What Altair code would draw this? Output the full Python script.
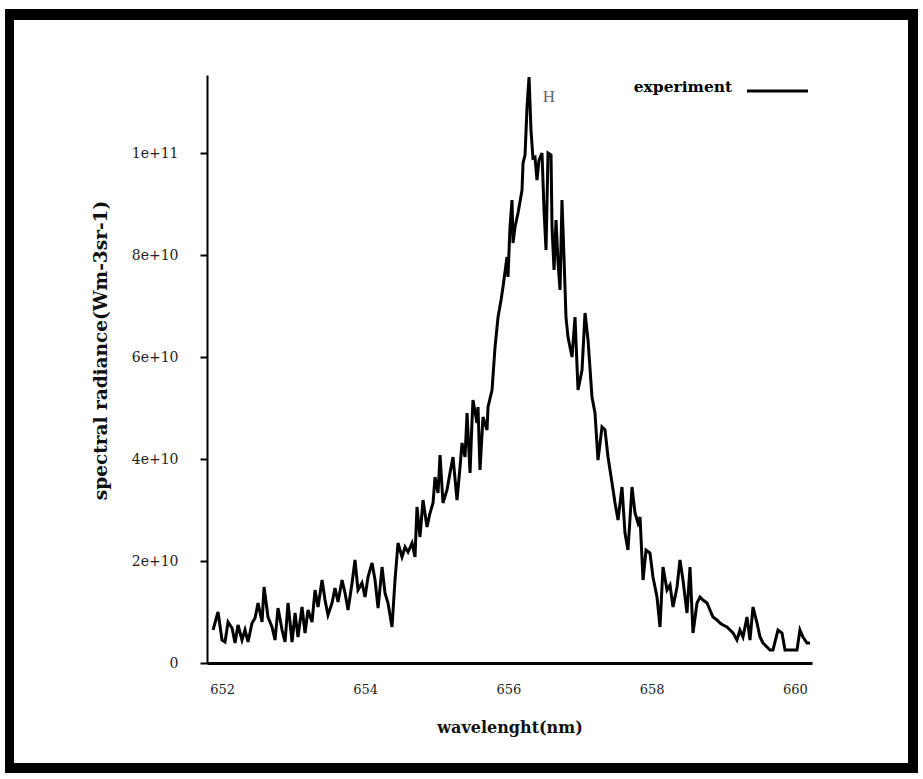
import altair as alt
import pandas as pd

# wavelength (nm)
wavelength = [
    651.874, 651.944, 652.000, 652.042, 652.084, 652.140, 652.182, 652.223, 652.279, 652.321,
    652.363, 652.419, 652.461, 652.503, 652.559, 652.587, 652.642, 652.698, 652.740, 652.782,
    652.838, 652.880, 652.922, 652.978, 653.020, 653.061, 653.117, 653.159, 653.201, 653.257,
    653.299, 653.341, 653.397, 653.438, 653.480, 653.536, 653.578, 653.620, 653.676, 653.718,
    653.760, 653.816, 653.857, 653.899, 653.955, 653.997, 654.039, 654.095, 654.137, 654.179,
    654.235, 654.276, 654.318, 654.374,
    654.416, 654.458, 654.514, 654.556, 654.598, 654.654, 654.695, 654.723, 654.765, 654.807,
    654.863, 654.905, 654.947, 654.975, 655.017, 655.045, 655.086, 655.142, 655.184, 655.226,
    655.282, 655.324, 655.352, 655.394, 655.422, 655.464, 655.492, 655.505, 655.561, 655.575,
    655.603, 655.645, 655.701, 655.715, 655.771,
    655.813, 655.855, 655.897, 655.924, 655.980, 655.994, 656.022, 656.050, 656.064, 656.092,
    656.134, 656.190, 656.204, 656.232, 656.260, 656.288, 656.315, 656.343, 656.371, 656.399,
    656.427, 656.469, 656.497, 656.525, 656.553, 656.595, 656.609, 656.637, 656.665, 656.693,
    656.721, 656.748, 656.776, 656.804,
    656.832, 656.888, 656.930, 656.972, 657.028, 657.070, 657.112, 657.167, 657.209, 657.251,
    657.307, 657.349, 657.391, 657.447, 657.489, 657.531, 657.586, 657.628, 657.670, 657.726,
    657.768, 657.810, 657.838, 657.880, 657.922, 657.977, 658.019, 658.047, 658.075, 658.117,
    658.159, 658.215, 658.257, 658.299, 658.355, 658.396, 658.438, 658.494, 658.536, 658.578,
    658.634, 658.676, 658.718, 658.774, 658.815, 658.857, 658.913, 658.955, 658.997, 659.053,
    659.095, 659.137, 659.192, 659.234, 659.276, 659.332, 659.374, 659.416, 659.472, 659.514,
    659.556, 659.611, 659.653, 659.695, 659.765, 659.821, 659.863, 659.933, 660.030, 660.072,
    660.114, 660.170, 660.212,
]

# spectral radiance, in units of 1e9
radiance_e9 = [
    6.47, 10.00, 4.51, 4.12, 8.04, 6.86, 3.92, 7.45, 4.51, 6.47,
    4.12, 7.84, 8.82, 11.76, 8.04, 14.90, 9.02, 7.06, 4.51, 10.78,
    6.47, 4.12, 11.76, 4.12, 9.80, 5.10, 10.98, 5.88, 10.39, 8.04,
    14.31, 10.98, 16.27, 12.35, 9.41, 11.76, 14.71, 11.96, 16.27, 13.73,
    10.39, 15.69, 20.20, 14.31, 15.69, 12.94, 16.86, 19.61, 16.27, 10.78,
    18.82, 13.73, 11.76, 7.06,
    16.27, 23.53, 20.78, 22.75, 21.76, 23.53, 20.78, 30.59, 24.71, 31.96,
    26.67, 29.41, 31.37, 36.47, 33.33, 40.78, 31.37, 33.92, 37.25, 40.39,
    31.96, 38.43, 43.14, 40.39, 49.02, 37.25, 47.65, 51.57, 47.06, 50.20,
    37.84, 48.24, 45.69, 50.20, 53.53,
    61.96, 67.84, 71.18, 73.73, 79.61, 75.69, 85.49, 90.78, 82.35, 85.49,
    88.24, 92.75, 98.04, 99.61, 109.0, 114.9, 104.5, 99.02, 99.22, 94.71,
    98.63, 100.0, 88.82, 80.98, 100.0, 99.61, 85.49, 77.06, 86.86, 78.43,
    73.14, 90.78, 79.61, 67.84,
    63.92, 60.00, 67.84, 53.53, 57.45, 68.63, 63.33, 52.16, 49.02, 39.80,
    46.27, 45.69, 40.39, 35.29, 31.37, 28.04, 34.51, 25.49, 22.16, 34.51,
    29.41, 27.45, 28.63, 16.27, 22.16, 21.57, 16.86, 14.90, 12.94, 7.06,
    18.82, 14.31, 15.29, 10.98, 14.90, 20.20, 16.27, 9.80, 18.82, 5.88,
    11.76, 12.94, 12.35, 11.76, 10.39, 9.02, 8.43, 7.84, 7.45, 7.06,
    6.47, 5.88, 4.51, 6.47, 5.10, 9.02, 4.51, 10.98, 7.84, 5.10,
    3.92, 3.14, 2.55, 2.55, 6.47, 5.88, 2.55, 2.55, 2.55, 6.47,
    5.10, 3.92, 3.92,
]

x_ticks = [652, 654, 656, 658, 660]
y_ticks = [0, 2e10, 4e10, 6e10, 8e10, 1e11]
legend_label = ["experiment"]
line_label = ["H"]
line_label_pos = [656.48, 1.11e11]

df = pd.DataFrame({
    "wavelength": wavelength,
    "radiance": [v * 1e9 for v in radiance_e9],
})

FONT = "DejaVu Serif"

x_enc = alt.X(
    "wavelength:Q",
    scale=alt.Scale(domain=[651.79, 660.24], nice=False, zero=False),
    axis=alt.Axis(
        values=x_ticks, format="d", grid=False, ticks=False,
        domainColor="black", domainWidth=3,
        labelFont=FONT, labelFontSize=13, labelColor="#222", labelPadding=20,
        title="wavelenght(nm)", titleFont=FONT, titleFontSize=16, titleFontWeight="bold",
        titleColor="#111", titleY=64, titleBaseline="middle",
    ),
)
y_enc = alt.Y(
    "radiance:Q",
    scale=alt.Scale(domain=[0, 1.153e11], nice=False),
    axis=alt.Axis(
        values=y_ticks, grid=False,
        labelExpr="datum.value == 0 ? '0' : format(datum.value, '.0e')",
        domainColor="black", domainWidth=2, tickColor="black", tickWidth=2, tickSize=7,
        labelFont=FONT, labelFontSize=14, labelColor="#222", labelPadding=22,
        title="spectral radiance(Wm-3sr-1)", titleFont=FONT, titleFontSize=18.5,
        titleFontWeight="bold", titleColor="#111", titleAngle=270,
        titleX=-107, titleY=275, titleAlign="center", titleBaseline="middle",
    ),
)

line = alt.Chart(df).mark_line(color="black", strokeWidth=3, strokeJoin="miter").encode(
    x=x_enc, y=y_enc
)

h_df = pd.DataFrame({"wavelength": [line_label_pos[0]], "radiance": [line_label_pos[1]], "t": line_label})
h_text = alt.Chart(h_df).mark_text(
    font="Liberation Serif", fontSize=17, color="#666", align="left", baseline="middle"
).encode(x="wavelength:Q", y="radiance:Q", text="t:N")

leg_df = pd.DataFrame({"t": legend_label})
leg_text = alt.Chart(leg_df).mark_text(
    font=FONT, fontSize=15.5, fontWeight="bold", color="black", align="center", baseline="middle"
).encode(x=alt.value(476), y=alt.value(12), text="t:N")
leg_line = alt.Chart(leg_df).mark_rule(color="black", strokeWidth=3).encode(
    x=alt.value(540), x2=alt.value(601), y=alt.value(16)
)

one = alt.Data(values=[{}])
def bar(x1, x2, y1, y2):
    return alt.Chart(one).mark_rect(color="black").encode(
        x=alt.value(x1), x2=alt.value(x2), y=alt.value(y1), y2=alt.value(y2)
    )

frame = [
    bar(-202, 711, -66, -55),
    bar(-202, -193, -66, 698),
    bar(701, 711, -66, 698),
    bar(-202, 711, 688, 698),
]

chart = alt.layer(line, h_text, leg_text, leg_line, *frame).properties(
    width=605, height=588,
    padding={"left": 207, "top": 75, "right": 111, "bottom": 116},
    autosize=alt.AutoSizeParams(type="none"),
    background="white",
).configure_view(strokeOpacity=0)

chart.save("out.html", embed_options={"renderer": "svg", "actions": False})
